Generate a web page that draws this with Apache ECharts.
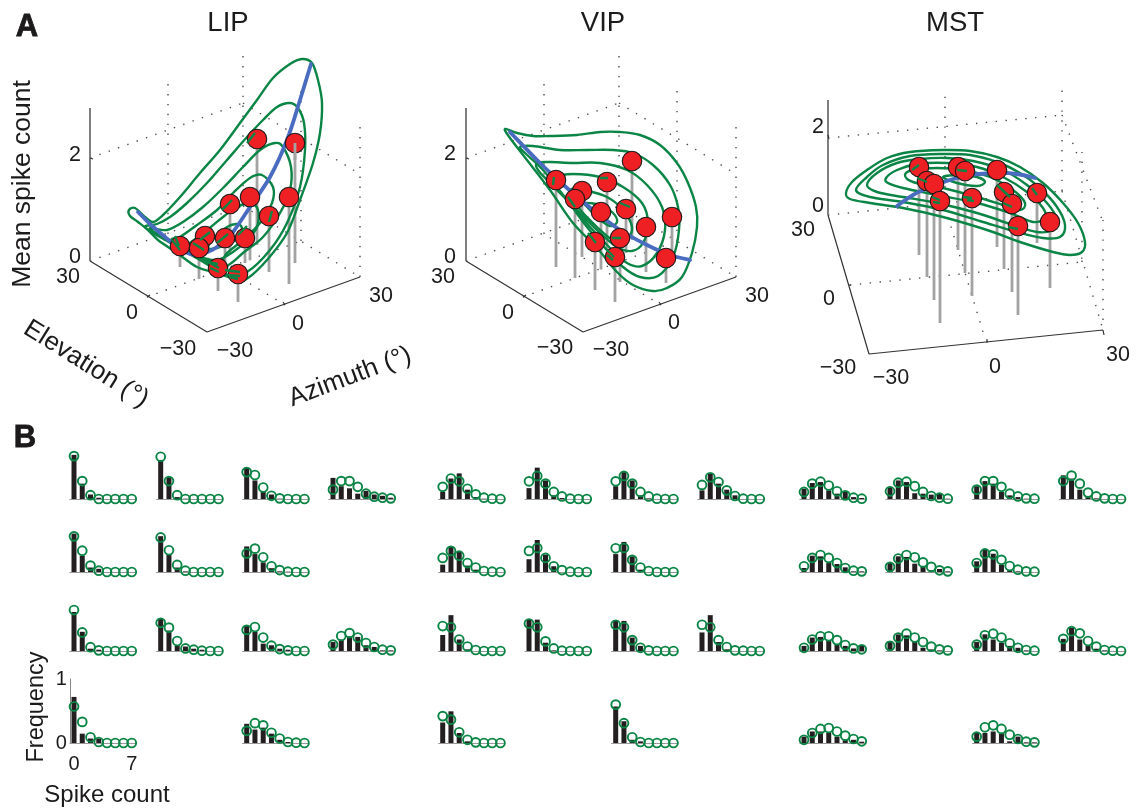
<!DOCTYPE html>
<html><head><meta charset="utf-8">
<style>html,body{margin:0;padding:0;background:#fff}#c{width:1136px;height:809px}</style>
<script src="https://cdn.jsdelivr.net/npm/echarts@6/dist/echarts.min.js"></script>
</head><body><div id="c"></div>
<script>
// ---------- Panel A: projected 3-D readings, in units of the page-wide hidden axes
const lipContours = [
 [[312,63],[302,59],[290,64],[273,78],[257,100],[240,123],[220,150],[200,173],[180,197],[163,215],[153,222],[145,217],[135,208],[129,210],[130,216],[138,222],[148,230],[158,240],[177,253],[197,267],[217,273],[238,280],[248,278],[267,260],[287,233],[300,200],[313,163],[320,133],[322,103],[318,80],[312,63]],
 [[290,103],[277,107],[263,120],[247,137],[227,160],[207,183],[187,203],[170,217],[157,224],[145,227],[160,237],[180,248],[200,260],[228,275],[247,272],[270,250],[287,223],[300,187],[305,150],[304,123],[298,108],[290,103]],
 [[275,143],[260,150],[243,167],[223,188],[203,207],[183,222],[167,230],[150,229],[185,248],[218,268],[230,264],[243,253],[263,237],[280,213],[290,190],[291,167],[283,147],[275,143]],
 [[262,175],[250,178],[233,193],[217,210],[197,225],[180,237],[172,240],[190,252],[218,263],[227,253],[243,240],[260,223],[272,203],[273,187],[262,175]],
 [[250,203],[237,207],[223,217],[207,230],[190,243],[183,248],[200,257],[217,260],[233,252],[247,240],[257,227],[258,210],[250,203]],
 [[237,224],[227,227],[215,237],[208,248],[217,248],[230,243],[240,237],[242,228],[237,224]]
];
const lipRidge = [[138,212],[150,224],[165,237],[180,249],[195,255],[212,250],[223,242],[233,232],[250,207],[270,177],[287,140],[300,100],[311,64]];
const lipDots = [[257,139],[295,143],[250,197],[289,197],[230,204],[269,216],[205,236],[225,238],[245,238],[180,246],[199,248],[218,268],[238,274]];
const lipStemEnds = [245,263,260,284,253,272,255,268,263,267,279,291,302];
const lipStubs = [[[172,240],[180,250]],[[175,236],[179,246]],[[208,262],[218,264]],[[208,262],[219,268]],[[210,268],[219,272]],[[225,270],[240,272]],[[228,275],[240,276]],[[229,277],[238,279]],[[247,143],[255,133]],[[193,243],[204,250]],[[222,210],[232,200]],[[269,222],[272,211]],[[200,240],[210,232]],[[238,235],[247,226]],[[217,243],[228,234]]];

const vipContours = [
 [[505,129],[517,133],[533,136],[550,136],[577,135],[600,132],[620,132],[640,135],[660,145],[677,163],[688,183],[696,207],[697,227],[692,253],[682,277],[667,288],[653,291],[633,285],[617,272],[597,248],[573,223],[550,190],[527,160],[510,138],[505,129]],
 [[520,147],[533,146],[560,150],[587,150],[613,150],[633,153],[653,165],[670,185],[678,207],[679,230],[673,257],[658,276],[640,277],[623,267],[607,250],[587,227],[567,200],[543,170],[525,153],[520,147]],
 [[537,163],[550,162],[573,163],[600,163],[627,170],[647,185],[662,207],[665,230],[657,253],[642,266],[627,263],[610,248],[590,227],[570,203],[550,183],[538,170],[537,163]],
 [[555,177],[573,174],[600,177],[623,187],[642,203],[648,223],[643,243],[632,251],[617,247],[600,233],[580,213],[560,193],[552,183],[555,177]],
 [[570,190],[587,191],[607,197],[623,210],[632,227],[627,238],[613,240],[597,227],[578,207],[570,190]],
 [[585,203],[600,205],[613,213],[617,222],[610,226],[598,218],[588,208],[585,203]]
];
const vipRidge = [[510,132],[540,163],[567,188],[593,210],[620,230],[647,245],[670,255],[690,260]];
const vipDots = [[632,161],[556,180],[607,182],[582,191],[575,199],[601,212],[626,209],[672,217],[646,227],[620,238],[595,242],[615,257],[666,258]];
const vipStemEnds = [240,267,250,257,278,269,253,250,272,282,290,302,283];
const vipStubs = [[[600,178],[608,178]],[[588,233],[596,243]],[[607,250],[614,257]],[[607,255],[613,260]],[[612,238],[621,238]],[[568,197],[575,207]],[[554,177],[553,185]],[[620,203],[630,207]]];

const mstContours = [
 [[846,193],[852,182],[867,170],[887,158],[910,152],[943,150],[970,151],[997,157],[1020,167],[1043,183],[1063,203],[1078,223],[1085,242],[1082,252],[1070,255],[1053,252],[1020,242],[987,230],[943,217],[903,208],[870,203],[850,199],[846,193]],
 [[856,190],[867,177],[883,165],[910,156],[943,154],[970,155],[997,162],[1020,173],[1040,188],[1057,207],[1065,225],[1060,237],[1043,238],[1017,232],[983,222],[943,210],[903,202],[870,197],[856,190]],
 [[867,185],[877,173],[897,163],[920,159],[947,158],[973,161],[1003,170],[1027,185],[1047,203],[1057,220],[1052,230],[1037,232],[1010,224],[977,213],[937,203],[903,197],[877,192],[867,185]],
 [[886,178],[897,170],[917,164],[947,163],[977,167],[1003,177],[1027,192],[1043,208],[1045,218],[1033,222],[1010,213],[977,203],[937,195],[903,188],[888,183],[886,178]],
 [[905,175],[913,170],[937,168],[963,170],[990,177],[1013,190],[1025,203],[1020,210],[1003,205],[977,197],[943,188],[913,182],[905,175]],
 [[943,177],[960,175],[977,177],[985,182],[977,186],[957,183],[943,177]]
];
const mstRidge = [[897,206],[913,195],[930,187],[950,180],[970,175],[997,173],[1017,174],[1035,178]];
const mstDots = [[919,167],[958,167],[965,171],[997,170],[927,181],[934,184],[1037,193],[1004,192],[972,198],[940,201],[1012,204],[1050,222],[1018,226]];
const mstStemEnds = [255,250,273,247,277,300,243,269,296,323,292,288,315];
const mstStubs = [[[912,170],[919,165]],[[917,178],[927,182]],[[963,197],[972,198]],[[967,200],[974,201]],[[932,197],[940,200]],[[933,202],[940,203]],[[1008,227],[1018,229]],[[1032,188],[1037,195]],[[997,185],[1010,197]],[[1003,203],[1012,207]],[[957,170],[967,171]]];

// box edges of the three 3-D frames
const lipBox = {
 solidGrey: [[[90,108],[90,261]]],
 solidDark: [[[90,261],[207,332]],[[207,332],[360,277]],[[90,158],[93,159]],[[147,297],[150,295]],[[285,305],[283,302]]],
 dotted: [[[90,261],[243,206]],[[243,206],[360,277]],[[90,158],[243,103]],[[243,103],[360,174]],[[243,206],[243,55]],[[360,277],[360,125]],[[285,305],[168,234]],[[168,234],[168,81]],[[147,297],[301,241]],[[301,241],[301,90]]]
};
const vipBox = {
 solidGrey: [[[466,108],[466,261]]],
 solidDark: [[[466,261],[583,332]],[[583,332],[736,277]],[[466,158],[469,159]],[[523,297],[526,295]],[[661,305],[659,302]]],
 dotted: [[[466,261],[619,206]],[[619,206],[736,277]],[[466,158],[619,103]],[[619,103],[736,174]],[[619,206],[619,55]],[[736,277],[736,125]],[[661,305],[544,234]],[[544,234],[544,81]],[[523,297],[677,241]],[[677,241],[677,90]]]
};
const mstBox = {
 solidGrey: [[[828,100],[828,215]]],
 solidDark: [[[828,215],[869,354]],[[869,354],[1103,330]],[[828,135],[829,139]],[[848,285],[851,285]],[[987,343],[987,339]],[[1103,330],[1104,335]]],
 dotted: [[[828,215],[1062,191]],[[1062,191],[1103,330]],[[838,137],[1062,115]],[[1062,115],[1103,222]],[[1062,191],[1062,83]],[[1103,320],[1103,220]],[[850,285],[1082,262]],[[983,332],[945,207]],[[945,207],[945,95]],[[1082,262],[1082,152]]]
};

// ---------- Panel B: frequency at spike counts 0..7, column by column
const spikeCounts = [0,1,2,3,4,5,6,7];
const lipObserved = [
 [.69,.24,.07,.02,0,0,0,0],[.6,.255,.07,.05,0,0,0,0],[.61,.30,.036,.02,0,0,0,0],[.72,.146,.07,.07,0,0,0,0],
 [.61,.34,.03,.005,0,0,0,0],[.56,.27,.07,.01,0,0,0,0],[.5,.32,.09,.07,.036,.02,0,0],
 [.49,.29,.115,.07,.005,0,0,0],[.4,.28,.15,.06,.01,.005,0,0],[.4,.3,.115,.09,.036,.02,0,0],[.3,.21,.24,.146,.05,.016,0,0],
 [.33,.2,.167,.083,.125,.07,.05,.02],[.14,.18,.23,.22,.09,.0625,.01,.01]
];
const lipFit = [
 [.67,.28,.06,0,0,0,0,0],[.557,.333,.1,.02,0,0,0,0],[.64,.29,.06,.01,0,0,0,0],[.57,.33,.09,.016,0,0,0,0],
 [.66,.28,.06,0,0,0,0,0],[.54,.34,.11,.02,0,0,0,0],[.44,.365,.156,.04,.02,.005,0,0],
 [.42,.375,.18,.05,.01,0,0,0],[.29,.365,.23,.09,.03,.005,0,0],[.33,.375,.21,.083,.03,.01,0,0],[.19,.31,.276,.16,.07,.016,.005,0],
 [.146,.28,.28,.19,.083,.036,.02,.01],[.1,.234,.28,.21,.125,.0625,.02,.01]
];
const vipObserved = [
 [.11,.32,.4,.146,.03,.005,0,0],[.115,.4,.32,.1,.036,0,0,0],[.25,.56,.18,.026,0,0,0,0],[.32,.495,.156,.026,0,0,0,0],
 [.17,.49,.29,.057,.016,0,0,0],[.2,.5,.27,.09,0,0,0,0],[.49,.49,.13,.01,0,0,0,0],
 [.2,.42,.29,.057,.01,0,0,0],[.28,.47,.245,.036,0,0,0,0],[.48,.47,.21,.08,0,0,0,0],[.57,.34,.05,.026,0,0,0,0],
 [.135,.4,.24,.146,.057,0,0,0],[.29,.56,.14,.026,0,0,0,0]
];
const vipFit = [
 [.19,.32,.276,.16,.073,.02,.005,0],[.22,.33,.255,.14,.07,.016,.005,0],[.39,.37,.18,.07,.016,0,0,0],[.42,.365,.167,.05,.01,0,0,0],
 [.276,.36,.24,.11,.04,.005,0,0],[.33,.375,.22,.09,.03,.005,0,0],[.43,.37,.15,.04,.005,0,0,0],
 [.276,.36,.24,.11,.04,.005,0,0],[.37,.375,.19,.07,.016,0,0,0],[.41,.37,.17,.05,.01,0,0,0],[.6,.31,.09,.016,0,0,0,0],
 [.22,.34,.265,.135,.047,.005,0,0],[.41,.37,.17,.0625,.01,.005,0,0]
];
const mstObserved = [
 [.16,.25,.265,.135,.083,.11,.03,.016],[.0625,.255,.245,.14,.125,.073,.01,.01],[.08,.21,.22,.17,.1,.08,.04,.08],[.1,.18,.18,.156,.1,.05,.05,.02],
 [.19,.29,.265,.09,.083,.068,.083,.005],[.14,.245,.235,.13,.09,.026,.047,.01],[.156,.26,.245,.14,.05,.026,.01,0],
 [.2,.28,.24,.11,.057,.03,.005,0],[.167,.36,.286,.115,.026,.01,0,0],[.14,.26,.18,.13,.08,.05,.01,0],[.156,.156,.18,.156,.026,.1,.01,.01],
 [.37,.32,.146,.03,.01,0,0,0],[.19,.36,.18,.08,.036,.01,0,0]
];
const mstFit = [
 [.11,.24,.27,.21,.12,.057,.02,.005],[.09,.22,.265,.22,.14,.0625,.02,.01],[.05,.18,.23,.23,.17,.094,.04,.026],[.05,.156,.22,.234,.18,.115,.0625,.026],
 [.12,.255,.27,.2,.11,.047,.02,.005],[.08,.21,.265,.23,.15,.08,.026,.01],[.08,.21,.27,.21,.14,.068,.026,.01],
 [.146,.28,.28,.19,.083,.04,.01,.005],[.14,.29,.276,.19,.094,.036,.01,.005],[.1,.245,.27,.21,.12,.05,.016,.005],[.1,.245,.276,.22,.13,.0625,.02,.01],
 [.28,.365,.24,.1,.04,.01,0,0],[.19,.31,.276,.156,.068,.016,.005,0]
];
// layout of the small multiples (positions only)
const FONT = '"Liberation Sans", Arial, sans-serif';
const columnFirstCount = [74,160.7,246.7,333,442.7,529,615.7,702,804,890,976.7,1063.3];
const rowBaselines = [499,572,651,743];
const rowsInGroupColumn = [[0,1,2,3],[0,1,2],[0,1,2,3],[0,2]];
const COUNT_STEP = 8.25, FULL_SCALE_PX = 64;
const GREEN = '#0b8545', BLUE = '#4a6cc0', RED = '#ee2024', INK = '#1c1a1b';

const grids = [{left:0,top:0,width:1136,height:809}];
const xAxes = [{type:'value',gridIndex:0,min:0,max:1136,show:false}];
const yAxes = [{type:'value',gridIndex:0,min:0,max:809,inverse:true,show:false}];
const series = [];

function seg(list){ const out=[]; list.forEach((s,i)=>{ if(i) out.push(['-','-']); s.forEach(p=>out.push(p)); }); return out; }
function line(data,color,width,z,extra){ series.push(Object.assign({type:'line',z,xAxisIndex:0,yAxisIndex:0,data,showSymbol:false,symbol:'none',silent:true,clip:false,animation:false,connectNulls:false,
  lineStyle:Object.assign({color,width},(extra&&extra.ls)||{})})); }

// A curve through the read points: the library's scale maps each one, the pen rounds the corners.
function curve(points,color,width,z){
  const closed = points[0][0]===points[points.length-1][0] && points[0][1]===points[points.length-1][1];
  series.push({type:'custom',coordinateSystem:'cartesian2d',xAxisIndex:0,yAxisIndex:0,z,silent:true,animation:false,clip:false,
    data:points,encode:{x:0,y:1},
    renderItem:(params,api)=>{
      if(params.dataIndex!==0) return null;
      const p = points.map(q=>api.coord(q));
      const n = p.length;
      const at = i => closed ? p[((i%(n-1))+(n-1))%(n-1)] : p[Math.max(0,Math.min(n-1,i))];
      let d = 'M'+p[0][0]+' '+p[0][1];
      for(let i=0;i<n-1;i++){
        const a=at(i-1),b=at(i),c=at(i+1),e=at(i+2);
        d += ' C'+(b[0]+(c[0]-a[0])/6)+' '+(b[1]+(c[1]-a[1])/6)+' '+(c[0]-(e[0]-b[0])/6)+' '+(c[1]-(e[1]-b[1])/6)+' '+c[0]+' '+c[1];
      }
      return {type:'path',shape:{pathData:d},style:{fill:'none',stroke:color,lineWidth:width,lineJoin:'round',lineCap:'round'}};
    }});
}

function panel(box,contours,ridge,dots,ends,stubs){
  line(seg(box.dotted),'#4d4d4d',1.4,2,{ls:{type:[1.4,8.5]}});
  line(seg(box.solidGrey),'#7f7f7f',2,2);
  line(seg(box.solidDark),'#333333',1.2,2);
  line(seg(dots.map((d,i)=>[[d[0],d[1]],[d[0],ends[i]]])),'#a3a3a3',2.8,3);
  contours.forEach(c=>curve(c,GREEN,2.4,4));
  curve(ridge,BLUE,3.8,5);
  series.push({type:'scatter',z:6,xAxisIndex:0,yAxisIndex:0,data:dots,symbolSize:19.5,silent:true,animation:false,clip:false,
    itemStyle:{color:RED,borderColor:'#1a1a1a',borderWidth:1.1,opacity:1}});
  line(seg(stubs),GREEN,2.4,7);
}
panel(lipBox,lipContours,lipRidge,lipDots,lipStemEnds,lipStubs);
panel(vipBox,vipContours,vipRidge,vipDots,vipStemEnds,vipStubs);
panel(mstBox,mstContours,mstRidge,mstDots,mstStemEnds,mstStubs);
line([[295,143],[295,160]],'#a3a3a3',2.8,8);

// small multiples
function cell(colLeft,base,obs,fit,isKey){
  const g = grids.length;
  grids.push({left:colLeft-COUNT_STEP/2,width:COUNT_STEP*8,top:base-FULL_SCALE_PX,height:FULL_SCALE_PX});
  xAxes.push({type:'category',gridIndex:g,data:spikeCounts.map(String),boundaryGap:true,
    axisLine:{show:true,lineStyle:{color:'#999999',width:1}},axisTick:{show:false},
    axisLabel:{show:!!isKey,interval:(i)=>i===0||i===7,margin:11,fontSize:20,fontFamily:FONT,color:INK,hideOverlap:false}});
  yAxes.push({type:'value',gridIndex:g,min:0,max:1,interval:1,show:!!isKey,splitLine:{show:false},
    position:'left',axisLine:{show:true,lineStyle:{color:'#888888',width:1}},axisTick:{show:false},
    axisLabel:{margin:3,fontSize:20,fontFamily:FONT,color:INK}});
  series.push({type:'bar',z:2,xAxisIndex:g,yAxisIndex:g,data:obs,barWidth:5,silent:true,animation:false,itemStyle:{color:'#231f20'}});
  series.push({type:'scatter',z:3,xAxisIndex:g,yAxisIndex:g,data:fit.map((v,i)=>[i,v]),symbolSize:8.8,silent:true,animation:false,clip:false,
    itemStyle:{color:'rgba(0,0,0,0)',borderColor:GREEN,borderWidth:1.9,opacity:1}});
}
[[lipObserved,lipFit],[vipObserved,vipFit],[mstObserved,mstFit]].forEach((area,a)=>{
  let k=0;
  rowsInGroupColumn.forEach((rows,c)=>rows.forEach(r=>{
    cell(columnFirstCount[a*4+c],rowBaselines[r],area[0][k],area[1][k],a===0&&c===0&&r===3); k++;
  }));
});

// text
function label(text,x,y,size,opt){ opt=opt||{};
  return {type:'text',x,y,rotation:opt.rot||0,silent:true,z:50,
    style:{text,fill:INK,font:(opt.bold?'bold ':'')+size+'px '+FONT,align:'center',verticalAlign:'middle',
      stroke:opt.bold?INK:null,lineWidth:opt.bold?0.8:0}};
}
const panelTitles = [['LIP',228,23],['VIP',603,23],['MST',955,23]];
const tickTexts = [
 ['2',75,155],['0',75,257],['30',68,277],['0',132,313],['\u221230',178,349],['\u221230',235,351],['0',298,324],['30',381,296],
 ['2',450,154],['0',450,257],['30',443,277],['0',508,313],['\u221230',555,348],['\u221230',611,350],['0',674,323],['30',757,296],
 ['2',818,127],['0',818,206],['30',803,230],['0',829,299],['\u221230',838,368],['\u221230',891,378],['0',995,367],['30',1118,355]
];
const graphics = [
 label('A',27,27,31,{bold:true}),label('B',25,438,31,{bold:true}),
 label('Mean spike count',23,184,26.5,{rot:Math.PI/2}),
 label('Elevation (\u00b0)',86,364,26,{rot:-0.56}),
 label('Azimuth (\u00b0)',350,377,26,{rot:0.36}),
 label('Frequency',37,707,23.5,{rot:Math.PI/2}),
 label('Spike count',107,795,24)
];
panelTitles.forEach(t=>graphics.push(label(t[0],t[1],t[2],27.5)));
tickTexts.forEach(t=>graphics.push(label(t[0],t[1],t[2],21.5)));

const chart = echarts.init(document.getElementById('c'),null,{renderer:'canvas'});
chart.setOption({animation:false,backgroundColor:'#fff',grid:grids,xAxis:xAxes,yAxis:yAxes,series,graphic:{elements:graphics},tooltip:{show:false},legend:{show:false}});
</script></body></html>
